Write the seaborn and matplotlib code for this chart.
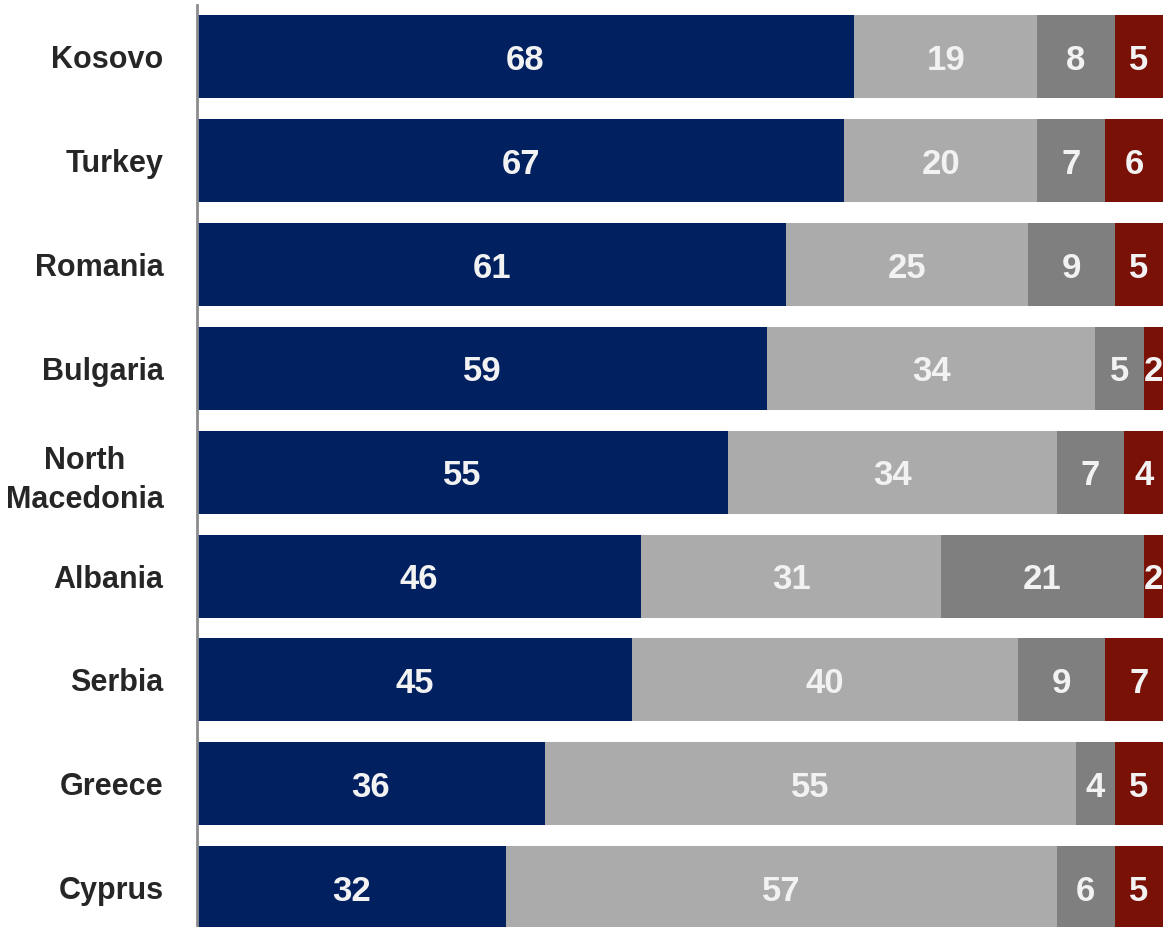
import numpy as np
import pandas as pd
import matplotlib
matplotlib.use('Agg')
import matplotlib.pyplot as plt
import seaborn as sns

# data
countries = ['Kosovo', 'Turkey', 'Romania', 'Bulgaria', 'North\nMacedonia',
             'Albania', 'Serbia', 'Greece', 'Cyprus']
seg1 = [68, 67, 61, 59, 55, 46, 45, 36, 32]
seg2 = [19, 20, 25, 34, 34, 31, 40, 55, 57]
seg3 = [8, 7, 9, 5, 7, 21, 9, 4, 6]
seg4 = [5, 6, 5, 2, 4, 2, 7, 5, 5]

colors = ['#002060', '#ABABAB', '#7F7F7F', '#7A1107']

sns.set_style('white')
plt.rcParams['font.family'] = ['Liberation Sans Narrow', 'Liberation Sans', 'DejaVu Sans']

df = pd.DataFrame({'country': countries, 's1': seg1, 's2': seg2, 's3': seg3, 's4': seg4})
segs = ['s1', 's2', 's3', 's4']
cum = df[segs].cumsum(axis=1)

fig = plt.figure(figsize=(11.63, 9.27), dpi=100)
ax = fig.add_axes([197 / 1163, 0.0, 1 - 197 / 1163, (927 - 5) / 927])

# stacked bars: draw cumulative totals from widest to narrowest
for i in reversed(range(4)):
    sns.barplot(x=cum[segs[i]], y=df['country'], color=colors[i], orient='h',
                width=0.8, saturation=1, linewidth=0, ax=ax)

# value labels
for row in range(len(df)):
    left = 0
    for s in segs:
        v = df.loc[row, s]
        ax.text(left + v / 2, row, str(v), ha='center', va='center_baseline',
                color='#F2F2F2', fontsize=25, fontweight='bold')
        left += v

ax.set_xlim(0, 100)
ax.set_ylim(8.38, -0.5)
ax.set_xlabel('')
ax.set_ylabel('')
ax.set_xticks([])
ax.tick_params(axis='y', length=0, pad=24)
for lbl in ax.get_yticklabels():
    lbl.set_fontsize(22)
    lbl.set_fontweight('bold')
    lbl.set_color('#262626')
    lbl.set_horizontalalignment('right')
    lbl.set_multialignment('center')
    lbl.set_linespacing(1.4)

for side in ['top', 'right', 'bottom']:
    ax.spines[side].set_visible(False)
ax.spines['left'].set_color('#8C8C8C')
ax.spines['left'].set_linewidth(2)

fig.savefig('out.png', dpi=100)
